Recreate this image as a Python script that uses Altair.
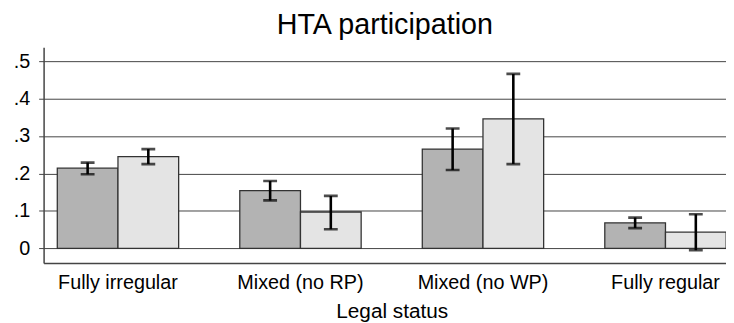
import altair as alt
import pandas as pd

categories = ["Fully irregular", "Mixed (no RP)", "Mixed (no WP)", "Fully regular"]
series = ["A", "B"]
dark_mean = [0.214, 0.154, 0.265, 0.068]
dark_lo = [0.198, 0.128, 0.209, 0.054]
dark_hi = [0.229, 0.180, 0.320, 0.082]
light_mean = [0.245, 0.097, 0.346, 0.043]
light_lo = [0.225, 0.051, 0.225, -0.005]
light_hi = [0.265, 0.140, 0.466, 0.091]
y_ticks = [0, 0.1, 0.2, 0.3, 0.4, 0.5]

rows = []
for i, c in enumerate(categories):
    rows.append({"cat": c, "s": series[0], "v": dark_mean[i], "lo": dark_lo[i], "hi": dark_hi[i]})
    rows.append({"cat": c, "s": series[1], "v": light_mean[i], "lo": light_lo[i], "hi": light_hi[i]})
df = pd.DataFrame(rows)

FONT = "Liberation Sans"

xscale = alt.Scale(range=[0, 704], paddingInner=0.335, paddingOuter=0.075)
x = alt.X("cat:N", sort=categories, scale=xscale,
          axis=alt.Axis(title="Legal status", labelAngle=0, ticks=False,
                        labelFontSize=20, titleFontSize=21, labelPadding=10,
                        titlePadding=8, domainColor="#444", domainWidth=1.5,
                        labelColor="black", titleColor="black", titleFontWeight="normal",
                        labelFont=FONT, titleFont=FONT, grid=False))
xo = alt.XOffset("s:N", sort=series, scale=alt.Scale(paddingInner=0, paddingOuter=0))
yscale = alt.Scale(domain=[-0.039, 0.537], nice=False, zero=False)

base = alt.Chart(df)

bars = base.mark_bar(stroke="#333", strokeWidth=1.3, clip=True).encode(
    x=x, xOffset=xo,
    y=alt.Y("v:Q", scale=yscale,
            axis=alt.Axis(title=None, values=y_ticks, tickSize=5, labelFontSize=20,
                          labelExpr="datum.value == 0 ? '0' : replace(format(datum.value, '.1f'), '0.', '.')",
                          labelPadding=9, gridColor="#444", gridWidth=1, domainColor="#444",
                          domainWidth=1.5, tickColor="#444", labelColor="black",
                          labelFont=FONT)),
    y2=alt.datum(0),
    color=alt.Color("s:N", sort=series, scale=alt.Scale(domain=series, range=["#b3b3b3", "#e4e4e4"]),
                    legend=None),
)

rules = base.mark_rule(color="black", strokeWidth=2.6, clip=True).encode(
    x=alt.X("cat:N", sort=categories, scale=xscale), xOffset=xo,
    y=alt.Y("lo:Q", scale=yscale), y2="hi:Q",
)
cap_lo = base.mark_tick(color="black", thickness=2.6, size=14, orient="horizontal", clip=True).encode(
    x=alt.X("cat:N", sort=categories, scale=xscale), xOffset=xo,
    y=alt.Y("lo:Q", scale=yscale),
)
cap_hi = base.mark_tick(color="black", thickness=2.6, size=14, orient="horizontal", clip=True).encode(
    x=alt.X("cat:N", sort=categories, scale=xscale), xOffset=xo,
    y=alt.Y("hi:Q", scale=yscale),
)

chart = alt.layer(bars, rules, cap_lo, cap_hi).properties(
    width=690, height=218,
    title=alt.TitleParams("HTA participation", fontSize=29, font=FONT, fontWeight="normal",
                          color="black", anchor="middle", offset=7),
    autosize=alt.AutoSizeParams(type="none"),
    padding={"left": 36, "top": 38, "right": 0, "bottom": 58},
).configure_view(stroke=None).configure_axis(labelFont=FONT, titleFont=FONT)

chart.save("out.html", embed_options={"renderer": "svg", "actions": False})
